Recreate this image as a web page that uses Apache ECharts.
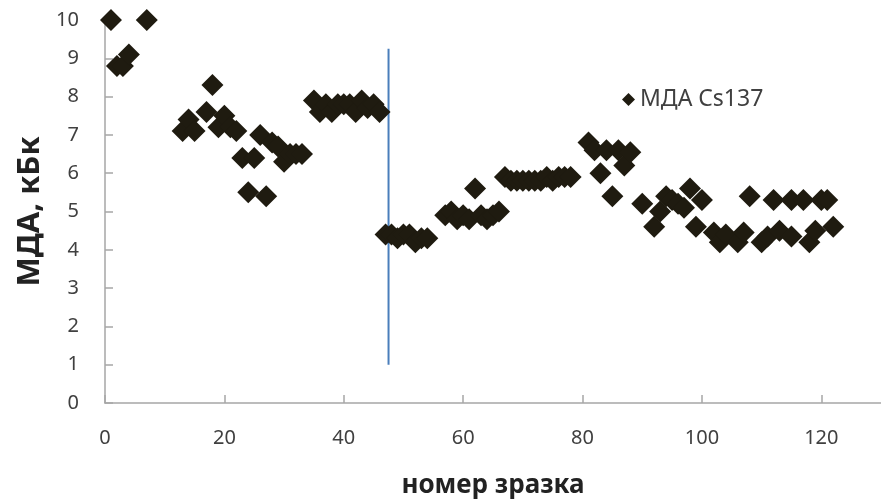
<!DOCTYPE html>
<html>
<head>
<meta charset="utf-8">
<script src="https://cdn.jsdelivr.net/npm/echarts@6/dist/echarts.min.js"></script>
<style>html,body{margin:0;padding:0;background:#fff}#c{width:881px;height:504px}</style>
</head>
<body>
<div id="c"></div>
<script>
// sample numbers (x) and MDA values (y)
const sampleX = [1,2,3,4,7,
  13,14,15,17,18,19,20,21,22,23,24,25,26,27,28,29,30,31,32,33,
  35,36,37,38,39,40,41,42,43,44,45,46,
  47,48,49,50,51,52,53,54,
  57,58,59,60,61,62,63,64,65,66,
  67,68,69,70,71,72,73,74,75,76,77,78,
  81,82,83,84,85,86,87,88,90,92,93,94,95,96,97,98,99,100,
  102,103,104,106,107,108,110,111,112,113,115,115,117,118,119,120,121,122];
const mdaValues = [10,8.8,8.8,9.1,10,
  7.1,7.4,7.1,7.6,8.3,7.2,7.5,7.2,7.1,6.4,5.5,6.4,7.0,5.4,6.8,6.7,6.3,6.5,6.5,6.5,
  7.9,7.6,7.8,7.6,7.8,7.8,7.8,7.6,7.9,7.7,7.8,7.6,
  4.4,4.4,4.3,4.4,4.4,4.2,4.3,4.3,
  4.9,5.0,4.8,4.9,4.8,5.6,4.9,4.8,4.9,5.0,
  5.9,5.8,5.8,5.8,5.8,5.8,5.8,5.9,5.8,5.9,5.9,5.9,
  6.8,6.6,6.0,6.6,5.4,6.6,6.2,6.55,5.2,4.6,5.0,5.4,5.3,5.2,5.1,5.6,4.6,5.3,
  4.45,4.2,4.4,4.2,4.45,5.4,4.2,4.35,5.3,4.5,4.35,5.3,5.3,4.2,4.5,5.3,5.3,4.6];
const dividerX = [47.5, 47.5];
const dividerY = [1, 9.25];
const xTicks = [0,20,40,60,80,100,120];
const yTicks = [0,1,2,3,4,5,6,7,8,9,10];
const seriesName = 'МДА Cs137';
const xTitle = 'номер зразка';
const yTitle = 'МДА, кБк';

const font = "'Noto Sans', sans-serif";
const chart = echarts.init(document.getElementById('c'));
chart.setOption({
  animation: false,
  backgroundColor: '#fff',
  grid: {left: 105, top: 20, width: 781, height: 383},
  legend: {
    data: [seriesName], left: 617, top: 83, icon: 'diamond', itemWidth: 13, itemHeight: 13, itemGap: 4,
    textStyle: {fontFamily: font, fontSize: 23, color: '#404040'}
  },
  xAxis: {
    type: 'value', min: 0, max: 130, interval: 20,
    name: xTitle, nameLocation: 'middle', nameGap: 70,
    nameTextStyle: {fontFamily: font, fontSize: 26, fontWeight: 'bold', color: '#222'},
    splitLine: {show: false},
    axisLine: {lineStyle: {color: '#a6a6a6', width: 1.5}},
    axisTick: {inside: true, length: 8, lineStyle: {color: '#a6a6a6', width: 1.5}},
    axisLabel: {margin: 25, fontFamily: font, fontSize: 20, color: '#404040', showMaxLabel: false,
      formatter: v => xTicks.includes(v) ? String(v) : ''}
  },
  yAxis: {
    type: 'value', min: 0, max: 10, interval: 1,
    name: yTitle, nameLocation: 'middle', nameGap: 58, nameRotate: 90,
    nameTextStyle: {fontFamily: font, fontSize: 31, fontWeight: 'bold', color: '#222'},
    splitLine: {show: false},
    axisLine: {show: true, lineStyle: {color: '#a6a6a6', width: 1.5}},
    axisTick: {show: true, inside: true, length: 8, lineStyle: {color: '#a6a6a6', width: 1.5}},
    axisLabel: {margin: 26, fontFamily: font, fontSize: 20, color: '#404040',
      formatter: v => yTicks.includes(v) ? String(v) : ''}
  },
  series: [
    {
      name: 'divider', type: 'line', data: dividerX.map((x, i) => [x, dividerY[i]]),
      symbol: 'none', lineStyle: {color: '#4a7ebb', width: 2}, silent: true, z: 1
    },
    {
      name: seriesName, type: 'scatter', symbol: 'diamond', symbolSize: 22,
      itemStyle: {color: '#1f1b10', opacity: 1},
      data: sampleX.map((x, i) => [x, mdaValues[i]]), z: 2
    }
  ]
});
</script>
</body>
</html>
